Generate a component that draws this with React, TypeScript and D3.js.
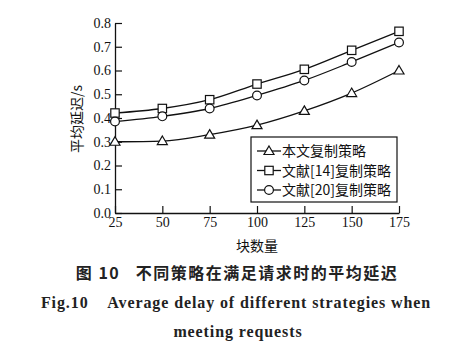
import React, { useEffect, useRef } from 'react';
import * as d3 from 'd3';

const blocks = [25, 50, 75, 100, 125, 150, 175];
const oursDelay = [0.30, 0.303, 0.33, 0.37, 0.43, 0.505, 0.60];
const ref14Delay = [0.421, 0.44, 0.477, 0.543, 0.605, 0.685, 0.765];
const ref20Delay = [0.385, 0.407, 0.44, 0.495, 0.558, 0.636, 0.718];
const yTicks = [0, 0.1, 0.2, 0.3, 0.4, 0.5, 0.6, 0.7, 0.8];
const seriesNames = ['本文复制策略', '文献[14]复制策略', '文献[20]复制策略'];
const seriesMarkers = ['triangle', 'square', 'circle'];

const serif = '"Liberation Serif", "Times New Roman", serif';
const cjk = '"Noto Sans CJK SC", sans-serif';

const App: React.FC = () => {
  const svgRef = useRef<SVGSVGElement>(null);

  useEffect(() => {
    if (!svgRef.current) return;
    const svg = d3.select(svgRef.current);
    svg.selectAll('*').remove();

    const width = 460;
    const height = 354;
    const margin = { top: 23, right: 61, bottom: 141, left: 115 };
    const innerWidth = width - margin.left - margin.right;
    const innerHeight = height - margin.top - margin.bottom;

    svg.append('rect').attr('width', width).attr('height', height).attr('fill', '#fff');

    const xScale = d3.scaleLinear().domain([25, 175]).range([0, innerWidth]);
    const yScale = d3.scaleLinear().domain([0, 0.8]).range([innerHeight, 0]);

    const g = svg.append('g').attr('transform', `translate(${margin.left},${margin.top})`);

    // axes, ticks pointing inward
    g.append('g')
      .attr('transform', `translate(0,${innerHeight})`)
      .call(d3.axisBottom(xScale).tickValues(blocks).tickSizeInner(-7).tickSizeOuter(0).tickPadding(4))
      .call((a: any) => a.selectAll('text').attr('fill', '#111').attr('font-size', '14px').attr('font-family', serif))
      .call((a: any) => a.selectAll('line').attr('stroke', '#111').attr('stroke-width', 1.2))
      .call((a: any) => a.select('.domain').attr('stroke', '#111').attr('stroke-width', 1.3));

    g.append('g')
      .call(d3.axisLeft(yScale).tickValues(yTicks).tickFormat(d3.format('.1f')).tickSizeInner(-7).tickSizeOuter(0).tickPadding(4))
      .call((a: any) => a.selectAll('text').attr('fill', '#111').attr('font-size', '14px').attr('font-family', serif))
      .call((a: any) => a.selectAll('line').attr('stroke', '#111').attr('stroke-width', 1.2))
      .call((a: any) => a.select('.domain').attr('stroke', '#111').attr('stroke-width', 1.3));

    g.append('text')
      .attr('transform', 'rotate(-90)')
      .attr('x', -innerHeight / 2 - 1)
      .attr('y', -33)
      .attr('text-anchor', 'middle')
      .attr('font-family', cjk)
      .attr('font-size', '14px')
      .attr('fill', '#111')
      .text('平均延迟/s');

    g.append('text')
      .attr('x', innerWidth / 2)
      .attr('y', innerHeight + 38)
      .attr('text-anchor', 'middle')
      .attr('font-family', cjk)
      .attr('font-size', '14px')
      .attr('fill', '#111')
      .text('块数量');

    const line = d3.line<number>()
      .x((_, i) => xScale(blocks[i]))
      .y(d => yScale(d))
      .curve(d3.curveMonotoneX);

    const drawMarker = (sel: any, kind: string, cx: number, cy: number) => {
      if (kind === 'square') {
        sel.append('rect')
          .attr('x', cx - 4.2).attr('y', cy - 4.2).attr('width', 8.4).attr('height', 8.4)
          .attr('fill', '#fff').attr('stroke', '#111').attr('stroke-width', 1.2);
      } else if (kind === 'circle') {
        sel.append('circle')
          .attr('cx', cx).attr('cy', cy).attr('r', 4.4)
          .attr('fill', '#fff').attr('stroke', '#111').attr('stroke-width', 1.2);
      } else {
        sel.append('path')
          .attr('d', `M${cx},${cy - 5}L${cx + 5},${cy + 3.5}L${cx - 5},${cy + 3.5}Z`)
          .attr('fill', '#fff').attr('stroke', '#111').attr('stroke-width', 1.2);
      }
    };

    const allSeries = [oursDelay, ref14Delay, ref20Delay];
    allSeries.forEach((values) => {
      g.append('path')
        .datum(values)
        .attr('fill', 'none')
        .attr('stroke', '#111')
        .attr('stroke-width', 1.3)
        .attr('d', line);
    });
    allSeries.forEach((values, s) => {
      values.forEach((v, i) => drawMarker(g, seriesMarkers[s], xScale(blocks[i]), yScale(v)));
    });

    // legend
    const lx = 251 - margin.left;
    const ly = 137 - margin.top;
    const legend = g.append('g').attr('transform', `translate(${lx},${ly})`);
    legend.append('rect')
      .attr('width', 146).attr('height', 65)
      .attr('fill', '#fff').attr('stroke', '#111').attr('stroke-width', 1.2);
    seriesNames.forEach((name, i) => {
      const y = 14 + i * 19.5;
      legend.append('line')
        .attr('x1', 6).attr('x2', 30).attr('y1', y).attr('y2', y)
        .attr('stroke', '#111').attr('stroke-width', 1.3);
      drawMarker(legend, seriesMarkers[i], 18, y);
      legend.append('text')
        .attr('x', 31).attr('y', y + 5)
        .attr('font-family', cjk)
        .attr('font-size', '14px')
        .attr('fill', '#111')
        .text(name);
    });

    // captions
    svg.append('text')
      .attr('x', 237)
      .attr('y', 279)
      .attr('text-anchor', 'middle')
      .attr('font-family', cjk)
      .attr('font-size', '16px')
      .attr('font-weight', 'bold')
      .attr('letter-spacing', '1.5px')
      .attr('fill', '#222')
      .attr('xml:space', 'preserve')
      .text('图 10   不同策略在满足请求时的平均延迟');

    svg.append('text')
      .attr('x', 236)
      .attr('y', 308)
      .attr('text-anchor', 'middle')
      .attr('font-family', serif)
      .attr('font-size', '16px')
      .attr('font-weight', 'bold')
      .attr('letter-spacing', '0.9px')
      .attr('fill', '#222')
      .attr('xml:space', 'preserve')
      .text('Fig.10    Average delay of different strategies when');

    svg.append('text')
      .attr('x', 238)
      .attr('y', 337)
      .attr('text-anchor', 'middle')
      .attr('font-family', serif)
      .attr('font-size', '16px')
      .attr('font-weight', 'bold')
      .attr('letter-spacing', '0.9px')
      .attr('fill', '#222')
      .text('meeting requests');
  }, []);

  return (
    <svg
      ref={svgRef}
      width={460}
      height={354}
      style={{ position: 'absolute', left: 0, top: 0, display: 'block' }}
    />
  );
};

export default App;
